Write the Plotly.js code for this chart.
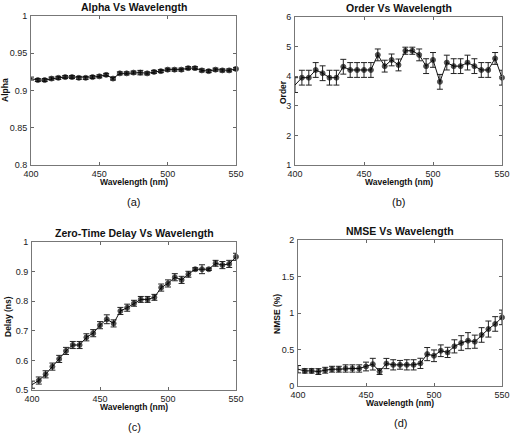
<!DOCTYPE html>
<html><head><meta charset="utf-8">
<script src="https://cdn.plot.ly/plotly-3.0.1.min.js"></script>
<style>html,body{margin:0;padding:0;background:#fff}#c{width:510px;height:434px}</style>
</head><body><div id="c"></div>
<script>
const wavelength = [400,405,410,415,420,425,430,435,440,445,450,455,460,465,470,475,480,485,490,495,500,505,510,515,520,525,530,535,540,545,550];
const alpha = [0.916,0.914,0.914,0.916,0.917,0.918,0.918,0.917,0.917,0.918,0.919,0.921,0.916,0.923,0.923,0.924,0.924,0.923,0.925,0.926,0.928,0.928,0.928,0.930,0.930,0.927,0.926,0.928,0.927,0.927,0.929];
const alphaErr = [0.002,0.002,0.002,0.002,0.002,0.002,0.002,0.002,0.002,0.002,0.002,0.002,0.002,0.002,0.002,0.002,0.003,0.002,0.002,0.002,0.002,0.002,0.002,0.002,0.002,0.002,0.002,0.002,0.002,0.002,0.002];
const order = [3.7,3.95,3.95,4.21,4.10,3.95,3.95,4.32,4.21,4.21,4.21,4.21,4.72,4.34,4.55,4.38,4.86,4.86,4.72,4.34,4.55,3.81,4.46,4.34,4.34,4.46,4.34,4.21,4.21,4.60,3.95];
const orderErr = [0.25,0.25,0.25,0.25,0.25,0.25,0.25,0.25,0.25,0.25,0.25,0.25,0.2,0.2,0.2,0.2,0.12,0.12,0.2,0.25,0.25,0.25,0.25,0.25,0.25,0.25,0.25,0.25,0.25,0.2,0.25];
const delay = [0.518,0.532,0.553,0.579,0.605,0.632,0.652,0.652,0.678,0.692,0.719,0.739,0.725,0.767,0.778,0.793,0.806,0.806,0.813,0.846,0.860,0.881,0.872,0.891,0.908,0.908,0.908,0.928,0.922,0.926,0.950];
const delayErr = [0.012,0.012,0.012,0.012,0.012,0.012,0.012,0.012,0.012,0.012,0.012,0.015,0.012,0.012,0.012,0.01,0.01,0.01,0.01,0.012,0.012,0.012,0.012,0.01,0.005,0.015,0.004,0.01,0.012,0.012,0.012];
const nmse = [0.23,0.207,0.207,0.198,0.216,0.23,0.23,0.24,0.24,0.24,0.267,0.299,0.198,0.308,0.29,0.29,0.29,0.29,0.31,0.437,0.414,0.483,0.46,0.543,0.589,0.621,0.607,0.699,0.78,0.85,0.94];
const nmseErr = [0.05,0.03,0.03,0.04,0.04,0.04,0.04,0.05,0.05,0.05,0.06,0.08,0.04,0.07,0.07,0.06,0.07,0.07,0.07,0.09,0.08,0.08,0.07,0.09,0.1,0.11,0.09,0.1,0.11,0.1,0.1];
const panelTitles = ['Alpha Vs Wavelength','Order Vs Wavelength','Zero-Time Delay Vs Wavelength','NMSE Vs Wavelength'];
const yTitles = ['Alpha','Order','Delay (ns)','NMSE (%)'];
const panelLabels = ['(a)','(b)','(c)','(d)'];
const xTitle = 'Wavelength (nm)';
const xTicks = [400,450,500,550];

const series = [[alpha,alphaErr],[order,orderErr],[delay,delayErr],[nmse,nmseErr]];
const yRanges = [[0.8,1],[1,6],[0.5,1],[0,2]];
const yDtick = [0.05,1,0.1,0.5];
const W=510,H=434;
// boxes in pixels: left, top, right, bottom
const boxes = [[31,16,236,165],[295,17,502,165],[32,242,236,390],[298,240,502,386]];
const font = 'Liberation Sans, Arial, sans-serif';
const markerSizes = wavelength.map((w,k)=>k===0?0:5);

const data=[]; const layout={width:W,height:H,margin:{l:0,r:0,t:0,b:0},paper_bgcolor:'#fff',plot_bgcolor:'#fff',showlegend:false,annotations:[],font:{family:font,color:'#111'}};
series.forEach((s,i)=>{
  const n=i+1;
  data.push({x:wavelength,y:s[0],xaxis:'x'+n,yaxis:'y'+n,type:'scatter',mode:'lines+markers',
    line:{color:'#111',width:1},marker:{color:'#000',size:markerSizes,symbol:'circle'},cliponaxis:false,
    error_y:{type:'data',array:s[1],visible:true,color:'#222',thickness:1,width:3}});
  const b=boxes[i];
  const ax={domain:[b[0]/W,b[2]/W],range:[400,550],tickvals:xTicks,ticks:'inside',ticklen:3,tickcolor:'#666',
    showline:true,linecolor:'#777',linewidth:1,mirror:'allticks',showgrid:false,zeroline:false,
    tickfont:{size:9,color:'#222',family:font},anchor:'y'+n};
  const ay={domain:[1-b[3]/H,1-b[1]/H],range:yRanges[i],dtick:yDtick[i],tick0:0,ticks:'inside',ticklen:3,tickcolor:'#666',
    showline:true,linecolor:'#777',linewidth:1,mirror:'allticks',showgrid:false,zeroline:false,
    tickfont:{size:9,color:'#222',family:font},anchor:'x'+n,ticklabelstandoff:1};
  layout['xaxis'+(n===1?'':n)]=ax; layout['yaxis'+(n===1?'':n)]=ay;
  const cx=(b[0]+b[2])/2/W;
  layout.annotations.push({text:'<b>'+panelTitles[i]+'</b>',xref:'paper',yref:'paper',x:cx,y:1-(b[1]-9)/H,xanchor:'center',yanchor:'middle',showarrow:false,font:{size:10.5,color:'#111',family:font}});
  layout.annotations.push({text:'<b>'+xTitle+'</b>',xref:'paper',yref:'paper',x:cx,y:1-(b[3]+17)/H,xanchor:'center',yanchor:'middle',showarrow:false,font:{size:8.5,color:'#111',family:font}});
  layout.annotations.push({text:panelLabels[i],xref:'paper',yref:'paper',x:cx,y:1-(b[3]+37)/H,xanchor:'center',yanchor:'middle',showarrow:false,font:{size:11,color:'#111',family:font}});
});
const yTitlePos=[[5,90],[283,92],[8,317],[277,314]];
yTitles.forEach((t,i)=>{
  layout.annotations.push({text:'<b>'+t+'</b>',xref:'paper',yref:'paper',x:yTitlePos[i][0]/W,y:1-yTitlePos[i][1]/H,xanchor:'center',yanchor:'middle',textangle:-90,showarrow:false,font:{size:8.5,color:'#111',family:font}});
});
Plotly.newPlot('c',data,layout,{staticPlot:true,displayModeBar:false});
</script></body></html>
